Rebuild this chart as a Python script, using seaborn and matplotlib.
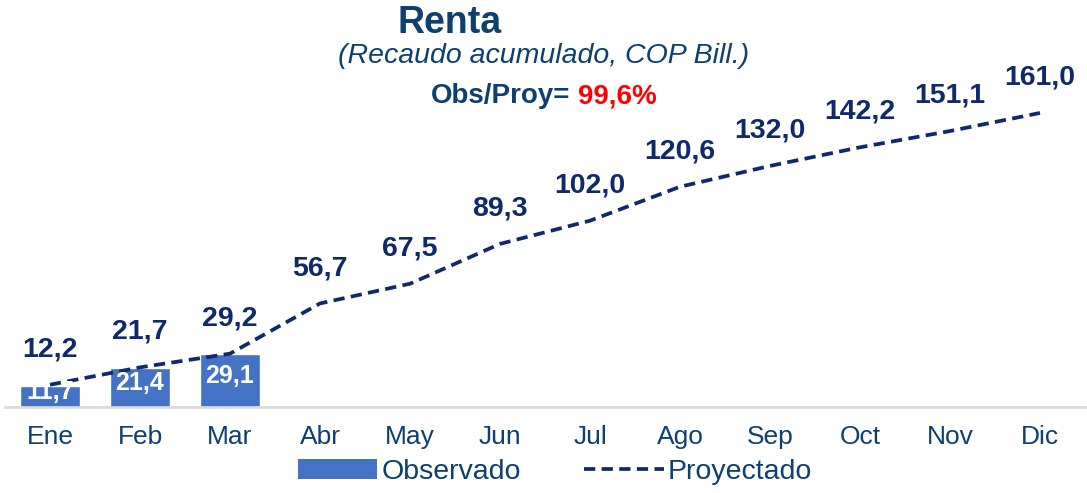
import numpy as np
import pandas as pd
import matplotlib
matplotlib.use("Agg")
import matplotlib.pyplot as plt
from matplotlib.patches import Patch
from matplotlib.lines import Line2D
import seaborn as sns

# Data
meses = ["Ene", "Feb", "Mar", "Abr", "May", "Jun", "Jul", "Ago", "Sep", "Oct", "Nov", "Dic"]
observado = [11.7, 21.4, 29.1]
proyectado = [12.2, 21.7, 29.2, 56.7, 67.5, 89.3, 102.0, 120.6, 132.0, 142.2, 151.1, 161.0]

bar_color = "#4472C4"
navy = "#10296A"
title_color = "#0E3F6E"
dash = (0, (3.0, 1.7))

sns.set_theme(style="white")
plt.rcParams["font.family"] = ["Liberation Sans", "DejaVu Sans"]

df = pd.DataFrame({
    "mes": meses,
    "obs": observado + [np.nan] * (len(meses) - len(observado)),
    "proy": proyectado,
})

fig = plt.figure(figsize=(10.87, 4.93), dpi=100)
ax = fig.add_axes([5 / 1087, (493 - 407) / 493, 1080 / 1087, (407 - 60) / 493])

sns.barplot(data=df, x="mes", y="obs", order=meses, color=bar_color,
            width=0.667, saturation=1, ax=ax)
sns.lineplot(x=np.arange(len(meses)), y=df["proy"], color=navy, lw=2.7,
             linestyle=dash, ax=ax)

ax.set_ylim(0, 190)
ax.set_xlim(-0.5, len(meses) - 0.5)

# projected labels above the line
for i, v in enumerate(proyectado):
    ax.annotate(f"{v:.1f}".replace(".", ","), (i, v), xytext=(0, 25.5), textcoords="offset points",
                ha="center", va="center", fontsize=20.5, fontweight="bold", color=navy)

# observed labels inside the bars
for i, v in enumerate(observado):
    ax.annotate(f"{v:.1f}".replace(".", ","), (i, v / 2), xytext=(0, 3), textcoords="offset points",
                ha="center", va="center", fontsize=18, fontweight="bold", color="white")

for s in ["top", "right", "left"]:
    ax.spines[s].set_visible(False)
ax.spines["bottom"].set_color("#D9D9D9")
ax.spines["bottom"].set_linewidth(2)
ax.set_yticks([])
ax.set_xlabel("")
ax.set_ylabel("")
ax.tick_params(axis="x", length=0, labelsize=19, labelcolor=title_color, pad=13)

# titles
fig.text(450 / 1087, 1 - 23 / 493, "Renta", ha="center", va="center",
         fontsize=27, fontweight="bold", color=title_color)
fig.text(544 / 1087, 1 - 56 / 493, "(Recaudo acumulado, COP Bill.)", ha="center", va="center",
         fontsize=20.5, style="italic", color=title_color)
fig.text(570 / 1087, 1 - 96 / 493, "Obs/Proy=", ha="right", va="center",
         fontsize=20, fontweight="bold", color=title_color)
fig.text(578 / 1087, 1 - 96 / 493, "99,6%", ha="left", va="center",
         fontsize=20, fontweight="bold", color="#FF0000")

handles = [Patch(facecolor=bar_color, edgecolor="none"),
           Line2D([0], [0], color=navy, lw=2.7, linestyle=dash)]
fig.legend(handles, ["Observado", "Proyectado"], loc="center", bbox_to_anchor=(555 / 1087, 1 - 472 / 493),
           ncol=2, frameon=False, fontsize=20.5, handlelength=2.8, handletextpad=0.15,
           columnspacing=2.2, labelcolor=title_color)

fig.savefig("out.png", dpi=100)
